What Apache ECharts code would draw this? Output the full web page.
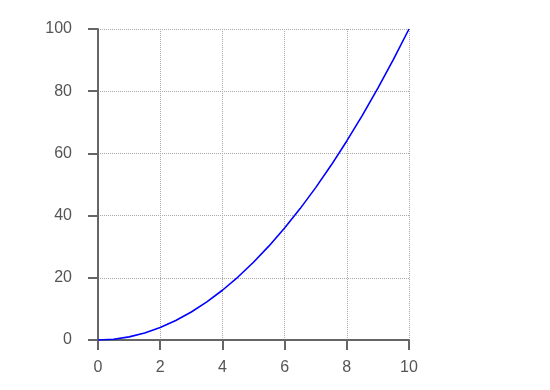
<!DOCTYPE html>
<html><head><meta charset="utf-8">
<script src="https://cdn.jsdelivr.net/npm/echarts@6/dist/echarts.min.js"></script>
<style>html,body{margin:0;padding:0;background:#fff}#c{width:550px;height:390px}</style>
</head><body><div id="c"></div>
<script>
const xValues = [0, 0.5, 1, 1.5, 2, 2.5, 3, 3.5, 4, 4.5, 5, 5.5, 6, 6.5, 7, 7.5, 8, 8.5, 9, 9.5, 10];
const yValues = [0, 0.25, 1, 2.25, 4, 6.25, 9, 12.25, 16, 20.25, 25, 30.25, 36, 42.25, 49, 56.25, 64, 72.25, 81, 90.25, 100];
const xTicks = [0, 2, 4, 6, 8, 10];
const yTicks = [0, 20, 40, 60, 80, 100];

const chart = echarts.init(document.getElementById('c'), null, {renderer: 'canvas'});
const axisCommon = {
  type: 'value',
  axisLine: {show: true, onZero: false, lineStyle: {color: '#666', width: 2}},
  axisTick: {show: true, inside: false, length: 10, lineStyle: {color: '#666', width: 2}},
  splitLine: {show: true, lineStyle: {color: '#aaa', type: [1, 1], width: 1}},
  axisLabel: {color: '#555', fontSize: 16, fontFamily: 'Liberation Sans, Arial, sans-serif'}
};
chart.setOption({
  animation: false,
  grid: {left: 98, right: 141, top: 29, bottom: 50, containLabel: false},
  xAxis: Object.assign({}, axisCommon, {min: 0, max: 10, interval: 2,
    axisLabel: Object.assign({}, axisCommon.axisLabel, {margin: 20})}),
  yAxis: Object.assign({}, axisCommon, {min: 0, max: 100, interval: 20,
    axisLabel: Object.assign({}, axisCommon.axisLabel, {margin: 26})}),
  series: [{
    type: 'line',
    data: xValues.map((x, i) => [x, yValues[i]]),
    showSymbol: false,
    smooth: false,
    lineStyle: {color: '#0000ff', width: 1.6}
  }]
});
</script></body></html>
